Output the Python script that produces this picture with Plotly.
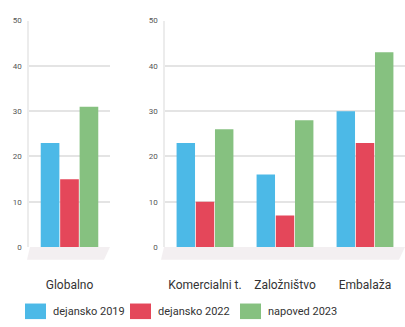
import plotly.graph_objects as go

left_cats = ["Globalno"]
right_cats = ["Komercialni t.", "Založništvo", "Embalaža"]
series = ["dejansko 2019", "dejansko 2022", "napoved 2023"]
colors = ["#4CB9E7", "#E4475A", "#86C180"]
left_vals = [[23], [15], [31]]
right_vals = [[23, 16, 30], [10, 7, 23], [26, 28, 43]]
yticks = [0, 10, 20, 30, 40, 50]

W, H = 405, 327
fig = go.Figure()
for i, name in enumerate(series):
    fig.add_trace(go.Bar(x=left_cats, y=left_vals[i], name=name, marker_color=colors[i],
                         marker_line_width=0, xaxis="x", yaxis="y", showlegend=False))
    fig.add_trace(go.Bar(x=right_cats, y=right_vals[i], name=name, marker_color=colors[i],
                         marker_line_width=0, xaxis="x2", yaxis="y2", showlegend=False))

ydom = [1 - 250 / H, 1 - 17 / H]
yax = dict(range=[0, 50], tickvals=yticks, showgrid=True, gridcolor="#e4e4e4", gridwidth=1.5,
           showline=True, linecolor="#ececec", linewidth=1.5, zeroline=False,
           tickfont=dict(size=8, color="#555"), ticks="", ticklabelstandoff=4)
xax = dict(showgrid=False, showline=False, zeroline=False, ticks="",
           tickfont=dict(size=12, color="#333"), ticklabelstandoff=29)

fig.update_layout(
    width=W, height=H, margin=dict(l=0, r=0, t=0, b=0),
    paper_bgcolor="white", plot_bgcolor="white",
    font=dict(family="Roboto", color="#333"),
    barmode="group", bargap=0.28, bargroupgap=0.04,
    xaxis=dict(domain=[29 / W, 110 / W], anchor="y", **xax),
    yaxis=dict(domain=ydom, anchor="x", **yax),
    xaxis2=dict(domain=[165 / W, 1.0], anchor="y2", **xax),
    yaxis2=dict(domain=ydom, anchor="x2", **yax),
)

# faint floor bands under each panel
def floor(x0, x1):
    y0 = 1 - 250 / H
    y1 = 1 - 263 / H
    return dict(type="path", xref="paper", yref="paper", layer="below",
                path=f"M {x0/W} {y0} L {x1/W} {y0} L {(x1-6)/W} {y1} L {(x0-3)/W} {y1} Z",
                fillcolor="#f3eff1", line=dict(width=0))

fig.add_shape(**floor(30, 110))
fig.add_shape(**floor(164, 405))

# legend
leg_x = [25, 130, 240]
for i, name in enumerate(series):
    x0 = leg_x[i]
    fig.add_shape(type="rect", xref="paper", yref="paper",
                  x0=x0 / W, x1=(x0 + 21) / W, y0=1 - 324 / H, y1=1 - 308 / H,
                  fillcolor=colors[i], line=dict(width=0))
    fig.add_annotation(xref="paper", yref="paper", x=(x0 + 26) / W, y=1 - 316 / H,
                       text=name, showarrow=False, xanchor="left", yanchor="middle",
                       font=dict(size=11, color="#333"))

fig.write_html("out.html")
